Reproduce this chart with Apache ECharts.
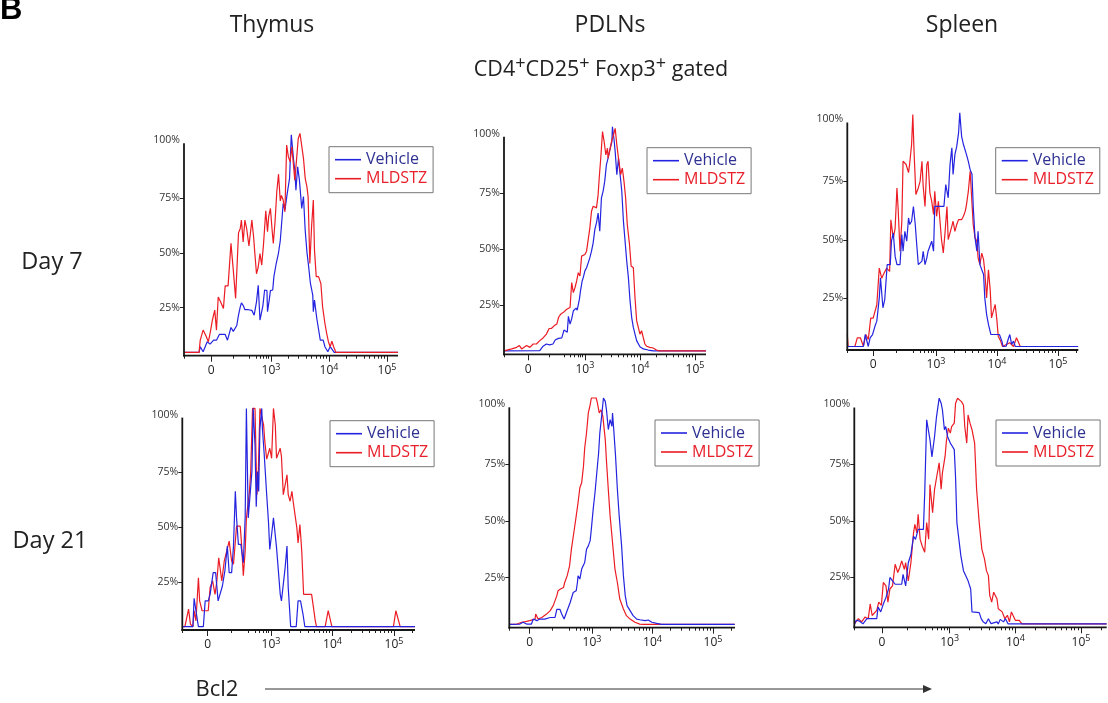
<!DOCTYPE html>
<html><head><meta charset="utf-8">
<script src="https://cdn.jsdelivr.net/npm/echarts@6/dist/echarts.min.js"></script>
<style>html,body{margin:0;padding:0;background:#fff}#c{width:1108px;height:703px}</style>
</head><body><div id="c"></div>
<script>
// ---- labels ----
const seriesNames = ['Vehicle', 'MLDSTZ'];
const tissueTitles = ['Thymus', 'PDLNs', 'Spleen'];
const dayLabels = ['Day 7', 'Day 21'];
const gateLabel = '{b|CD4}{s|+}{b|CD25}{s|+}{b| Foxp3}{s|+}{b| gated}';
const markerLabel = 'Bcl2';
// x is the position on the biexponential (logicle) display axis: 10^3 = 1, 10^4 = 2, 10^5 = 3
const xTickValues = [-0.03, 1, 2, 3];
const xTickLabels = ['0', '10{s|3}', '10{s|4}', '10{s|5}'];
const xMinorTicks = [0.35, 0.63, 0.74, 0.81, 0.87, 0.92, 0.96,
  1.301, 1.477, 1.602, 1.699, 1.778, 1.845, 1.903, 1.954,
  2.301, 2.477, 2.602, 2.699, 2.778, 2.845, 2.903, 2.954, 3.301];
const yTickValues = [25, 50, 75];
const yLabelValues = [25, 50, 75, 100];

// ---- data: [display position, % of max] ----
const thymusDay7Vehicle = [[-0.50,0],[-0.24,0],[-0.22,2.6],[-0.17,0.3],[-0.10,4.9],[-0.05,3.8],[0.01,5.6],[0.06,5.6],[0.11,8.2],[0.21,8.2],[0.25,5.6],[0.31,11.4],[0.35,9.6],[0.41,12.3],[0.44,17.0],[0.47,20.8],[0.49,22.6],[0.52,21.5],[0.55,19.5],[0.61,19.5],[0.67,19.2],[0.71,17.0],[0.75,23.1],[0.78,30.7],[0.81,14.8],[0.86,21.2],[0.89,28.5],[0.93,28.2],[0.94,18.6],[0.97,24.0],[0.99,28.2],[1.03,28.5],[1.05,34.6],[1.09,40.6],[1.13,45.5],[1.16,51.0],[1.18,57.7],[1.21,68.0],[1.24,65.0],[1.28,72.6],[1.32,79.5],[1.35,99.4],[1.39,87.8],[1.41,83.3],[1.43,74.1],[1.46,84.8],[1.49,78.7],[1.53,65.8],[1.56,71.2],[1.59,55.7],[1.62,45.8],[1.65,39.0],[1.68,31.5],[1.72,26.2],[1.73,18.6],[1.75,23.9],[1.79,15.5],[1.85,5.6],[1.90,5.6],[1.93,2.6],[1.98,0.3],[2.02,2.6],[2.05,2.6],[2.09,0],[3.19,0]];
const thymusDay7MLDSTZ = [[-0.50,0],[-0.24,0],[-0.22,5.6],[-0.17,10.2],[-0.12,7.5],[-0.08,4.9],[-0.05,8.7],[-0.01,14.8],[0.03,19.3],[0.06,10.2],[0.09,25.3],[0.13,23.1],[0.18,20.1],[0.21,30.4],[0.26,30.4],[0.31,49.8],[0.35,37.6],[0.39,24.7],[0.41,24.7],[0.44,54.6],[0.47,56.6],[0.49,60.4],[0.52,50.5],[0.55,60.4],[0.58,56.6],[0.62,48.6],[0.67,60.4],[0.70,52.8],[0.72,45.8],[0.75,35.9],[0.78,39.0],[0.81,45.1],[0.84,39.9],[0.87,49.0],[0.91,64.7],[0.94,55.1],[0.96,62.0],[0.99,65.8],[1.02,55.7],[1.04,49.8],[1.07,59.7],[1.10,73.4],[1.13,81.4],[1.16,69.2],[1.18,71.7],[1.21,69.6],[1.24,64.2],[1.27,94.7],[1.30,89.3],[1.33,87.1],[1.36,93.9],[1.39,84.8],[1.41,78.7],[1.44,87.8],[1.47,97.7],[1.50,100],[1.53,100],[1.56,88.6],[1.59,79.5],[1.62,75.6],[1.64,71.1],[1.67,40.6],[1.70,57.5],[1.73,69.6],[1.75,46.7],[1.78,34.6],[1.82,34.6],[1.86,31.5],[1.89,20.8],[1.93,13.2],[1.96,8.7],[1.99,4.9],[2.02,2.6],[2.05,5.1],[2.08,2.6],[2.12,0],[3.19,0]];
const pdlnDay7Vehicle = [[-0.47,0],[0.18,0.1],[0.24,2.1],[0.30,3.1],[0.36,2.7],[0.42,3.1],[0.46,4.9],[0.52,5.6],[0.58,5.8],[0.62,9.3],[0.68,8.3],[0.70,15.4],[0.73,12.0],[0.76,14.3],[0.79,17.9],[0.84,19.1],[0.86,18.2],[0.90,23.1],[0.92,26.8],[0.95,31.2],[0.97,32.7],[1.00,35.7],[1.03,37.1],[1.06,39.3],[1.09,41.6],[1.12,44.5],[1.15,48.2],[1.18,54.1],[1.21,57.1],[1.24,61.5],[1.27,53.4],[1.30,68.2],[1.33,71.2],[1.36,75.6],[1.39,83.0],[1.42,85.9],[1.46,90.4],[1.49,93.3],[1.50,100],[1.53,94.1],[1.55,88.9],[1.58,78.6],[1.61,85.9],[1.64,78.6],[1.67,71.2],[1.70,57.8],[1.73,48.9],[1.76,40.0],[1.79,32.7],[1.82,22.3],[1.85,14.9],[1.88,10.5],[1.91,7.5],[1.94,4.6],[2.00,1.9],[2.06,0.9],[2.15,0.4],[2.24,0],[3.20,0]];
const pdlnDay7MLDSTZ = [[-0.47,0],[-0.46,0.4],[-0.33,0.9],[-0.24,1.6],[-0.19,2.4],[-0.15,0.9],[-0.06,2.4],[0.00,1.6],[0.06,3.1],[0.12,3.1],[0.18,4.6],[0.24,5.8],[0.30,7.5],[0.35,10.0],[0.39,10.0],[0.44,11.2],[0.49,12.0],[0.52,14.9],[0.56,16.4],[0.61,17.2],[0.67,18.6],[0.73,19.4],[0.76,30.5],[0.79,26.0],[0.82,28.3],[0.85,31.2],[0.88,34.9],[0.91,33.4],[0.94,42.3],[0.97,41.6],[1.00,43.0],[1.03,44.5],[1.06,43.8],[1.09,54.9],[1.12,62.3],[1.15,64.5],[1.18,65.2],[1.21,63.8],[1.24,69.7],[1.26,77.1],[1.29,86.7],[1.32,97.8],[1.35,93.3],[1.38,87.4],[1.41,90.4],[1.42,85.9],[1.46,90.4],[1.49,94.1],[1.52,96.3],[1.55,99.3],[1.58,91.9],[1.61,86.0],[1.65,78.6],[1.68,81.5],[1.71,75.6],[1.74,68.2],[1.77,56.4],[1.81,47.5],[1.84,37.9],[1.88,37.1],[1.91,23.8],[1.94,13.5],[1.97,10.5],[2.00,7.5],[2.03,9.0],[2.06,6.0],[2.09,3.1],[2.12,2.1],[2.18,1.6],[2.24,1.3],[2.30,0.4],[2.35,0],[3.20,0]];
const spleenDay7Vehicle = [[-0.45,0],[-0.19,0],[-0.16,5.1],[-0.11,0],[-0.08,3.7],[-0.04,5.1],[0.00,8.7],[0.03,10.8],[0.07,20.7],[0.09,29.3],[0.13,16.5],[0.16,20.0],[0.20,34.9],[0.25,34.9],[0.27,44.9],[0.30,48.4],[0.33,38.4],[0.36,34.9],[0.41,34.9],[0.44,47.7],[0.46,40.6],[0.49,49.1],[0.52,44.9],[0.55,54.8],[0.57,52.0],[0.60,53.4],[0.63,59.7],[0.66,52.0],[0.68,44.9],[0.71,34.9],[0.74,34.9],[0.77,36.4],[0.79,40.6],[0.82,34.9],[0.85,37.8],[0.87,40.6],[0.90,39.9],[0.93,44.9],[0.96,40.6],[0.98,59.7],[1.04,59.7],[1.09,59.7],[1.13,59.7],[1.16,69.0],[1.20,63.4],[1.23,77.6],[1.26,84.7],[1.28,73.3],[1.31,81.8],[1.34,85.3],[1.37,91.1],[1.39,99.6],[1.42,89.6],[1.45,86.1],[1.50,81.8],[1.53,78.9],[1.56,75.4],[1.59,73.4],[1.61,60.0],[1.64,46.3],[1.67,40.6],[1.69,49.1],[1.72,34.9],[1.75,34.9],[1.78,30.7],[1.80,20.7],[1.83,13.6],[1.86,9.4],[1.90,5.1],[2.04,5.1],[2.08,2.3],[2.10,0],[2.15,0.1],[2.19,3.6],[2.21,5.1],[2.24,0.9],[2.27,2.3],[2.30,0],[3.33,0]];
const spleenDay7MLDSTZ = [[-0.454,5.1],[-0.44,0],[-0.33,0],[-0.29,3.7],[-0.24,3.7],[-0.19,0.1],[-0.15,5.1],[-0.11,3.0],[-0.07,12.1],[-0.03,12.1],[0.03,17.8],[0.07,33.4],[0.11,29.1],[0.15,31.3],[0.19,33.4],[0.24,32.0],[0.26,54.0],[0.30,46.2],[0.33,50.4],[0.36,67.6],[0.38,58.4],[0.41,40.6],[0.44,53.4],[0.46,79.0],[0.51,77.6],[0.55,74.1],[0.57,78.3],[0.60,86.1],[0.62,98.9],[0.64,83.2],[0.67,64.8],[0.71,67.6],[0.74,70.5],[0.77,79.0],[0.79,68.3],[0.82,59.7],[0.85,77.6],[0.87,79.0],[0.90,65.5],[0.93,61.9],[0.96,56.3],[0.98,66.2],[1.01,55.5],[1.04,61.9],[1.07,52.0],[1.09,45.6],[1.12,39.9],[1.15,49.1],[1.18,59.7],[1.20,45.6],[1.23,45.6],[1.26,51.3],[1.28,53.4],[1.31,49.1],[1.34,52.0],[1.37,54.1],[1.42,54.1],[1.45,55.5],[1.48,57.7],[1.50,60.5],[1.53,66.1],[1.56,74.7],[1.59,74.7],[1.61,52.0],[1.64,46.3],[1.67,45.0],[1.69,37.8],[1.72,34.9],[1.75,39.8],[1.78,37.0],[1.80,32.0],[1.83,20.7],[1.86,32.7],[1.89,23.6],[1.91,12.2],[1.94,15.1],[1.97,17.9],[2.00,10.8],[2.02,4.4],[2.06,2.3],[2.09,0],[2.21,1.6],[2.27,0],[2.32,3.7],[2.38,0.1],[2.40,0],[3.33,0]];
const thymusDay21Vehicle = [[-0.44,0],[-0.27,0],[-0.25,13.0],[-0.22,7.3],[-0.18,0],[-0.10,0],[-0.07,11.8],[-0.02,11.8],[0.01,14.8],[0.06,24.7],[0.10,24.7],[0.14,11.8],[0.17,11.8],[0.21,18.6],[0.25,25.5],[0.29,36.8],[0.32,24.7],[0.36,24.7],[0.39,36.8],[0.42,61.8],[0.44,49.7],[0.47,37.6],[0.51,37.6],[0.55,29.2],[0.58,49.7],[0.60,99.7],[0.63,49.7],[0.66,60.3],[0.69,70.9],[0.71,99.7],[0.74,83.0],[0.76,54.8],[0.78,70.9],[0.80,61.8],[0.82,90.6],[0.85,99.7],[0.86,90.6],[0.89,78.5],[0.93,60.3],[0.96,47.4],[0.98,35.3],[1.01,42.1],[1.04,49.7],[1.07,49.7],[1.09,36.1],[1.12,25.5],[1.15,14.8],[1.17,11.8],[1.20,11.8],[1.23,27.0],[1.26,36.8],[1.28,17.9],[1.32,0],[1.41,0],[1.44,11.8],[1.48,11.8],[1.52,5.8],[1.55,0],[3.34,0]];
const thymusDay21MLDSTZ = [[-0.44,0],[-0.40,0],[-0.34,8.0],[-0.31,1.2],[-0.27,0],[-0.25,7.3],[-0.22,2.7],[-0.18,22.4],[-0.16,11.8],[-0.12,7.3],[-0.02,7.3],[0.01,17.9],[0.05,20.9],[0.09,14.8],[0.12,20.9],[0.15,31.5],[0.20,20.9],[0.24,30.0],[0.28,34.5],[0.32,39.1],[0.36,30.0],[0.39,28.5],[0.44,45.9],[0.50,45.9],[0.52,38.3],[0.55,23.3],[0.58,34.5],[0.60,49.7],[0.65,61.8],[0.67,70.9],[0.70,99.7],[0.74,99.7],[0.77,60.3],[0.79,66.4],[0.82,99.7],[0.85,99.7],[0.88,92.1],[0.90,84.5],[0.93,76.5],[0.96,76.5],[0.98,81.5],[1.01,76.9],[1.04,99.7],[1.07,92.1],[1.09,76.9],[1.12,76.9],[1.15,81.5],[1.17,77.7],[1.20,60.3],[1.23,64.8],[1.26,69.4],[1.28,60.3],[1.31,57.3],[1.34,61.8],[1.36,57.3],[1.39,51.2],[1.42,45.2],[1.44,38.3],[1.47,46.7],[1.50,34.5],[1.53,14.8],[1.66,14.8],[1.69,8.8],[1.72,2.7],[1.74,0],[1.88,0],[1.93,7.3],[1.99,0],[2.99,0],[3.03,7.3],[3.10,0],[3.34,0]];
const pdlnDay21Vehicle = [[-0.36,0],[-0.19,0.1],[-0.14,0.9],[-0.08,0.1],[0.00,0.1],[0.03,2.3],[0.09,1.6],[0.14,2.3],[0.22,2.3],[0.31,3.0],[0.39,3.0],[0.42,6.6],[0.44,7.3],[0.47,6.6],[0.50,4.5],[0.54,2.3],[0.58,5.3],[0.64,9.6],[0.69,14.0],[0.74,14.8],[0.76,18.4],[0.77,21.3],[0.80,19.9],[0.83,24.3],[0.86,24.3],[0.88,27.2],[0.91,33.0],[0.94,34.5],[0.97,36.8],[0.99,41.9],[1.02,50.6],[1.05,57.9],[1.08,66.7],[1.11,75.4],[1.13,84.2],[1.16,91.5],[1.19,99.6],[1.22,98.1],[1.24,94.4],[1.27,85.7],[1.30,90.1],[1.33,87.1],[1.34,93.0],[1.36,85.7],[1.39,74.0],[1.42,59.4],[1.45,47.7],[1.49,34.5],[1.52,21.3],[1.55,12.6],[1.58,8.2],[1.63,6.0],[1.68,3.8],[1.74,2.3],[1.79,2.0],[1.88,1.6],[1.93,1.9],[1.99,0.9],[2.07,0.4],[2.15,0],[3.36,0]];
const pdlnDay21MLDSTZ = [[-0.36,0],[-0.25,0],[-0.16,0.9],[-0.08,1.3],[-0.03,1.6],[0.00,2.3],[0.06,2.3],[0.07,4.5],[0.11,2.3],[0.17,3.0],[0.20,3.8],[0.25,4.5],[0.31,6.0],[0.36,8.2],[0.42,12.6],[0.44,14.8],[0.48,15.5],[0.53,16.2],[0.55,18.4],[0.59,21.3],[0.63,25.7],[0.66,33.0],[0.70,40.3],[0.74,47.7],[0.77,53.5],[0.80,60.1],[0.83,62.3],[0.86,69.6],[0.88,77.6],[0.91,84.2],[0.94,93.0],[0.97,96.6],[0.99,99.6],[1.07,99.6],[1.09,97.4],[1.12,93.0],[1.15,94.4],[1.18,91.5],[1.22,81.3],[1.24,71.8],[1.27,59.4],[1.30,47.7],[1.34,36.0],[1.38,24.3],[1.42,18.4],[1.46,11.1],[1.52,6.7],[1.57,3.8],[1.63,2.3],[1.71,0.9],[1.79,0.1],[1.85,0],[3.36,0]];
const spleenDay21Vehicle = [[-0.45,0],[-0.42,1.6],[-0.37,1.2],[-0.32,0],[-0.26,2.3],[-0.11,2.3],[-0.09,7.5],[-0.05,5.3],[-0.01,8.8],[0.03,11.7],[0.07,15.4],[0.09,20.5],[0.13,19.0],[0.17,17.5],[0.27,17.5],[0.29,21.9],[0.33,16.8],[0.37,27.0],[0.41,30.7],[0.45,38.7],[0.48,37.3],[0.52,41.7],[0.60,41.7],[0.62,57.7],[0.65,90.1],[0.70,81.3],[0.73,73.7],[0.77,82.7],[0.80,91.5],[0.84,99.6],[0.87,97.4],[0.89,94.4],[0.92,85.7],[0.94,87.1],[0.97,82.5],[1.01,79.8],[1.04,78.4],[1.07,76.9],[1.09,64.5],[1.11,44.7],[1.14,37.4],[1.17,30.1],[1.21,23.5],[1.24,22.8],[1.28,19.0],[1.32,15.4],[1.34,5.3],[1.45,5.0],[1.48,2.3],[1.51,0.9],[1.55,0.1],[1.59,2.3],[1.63,0.1],[1.72,0.9],[1.74,0],[1.77,2.0],[1.82,0.9],[1.85,2.3],[1.89,0],[3.39,0]];
const spleenDay21MLDSTZ = [[-0.45,0],[-0.39,2.3],[-0.34,0.9],[-0.29,3.0],[-0.24,2.3],[-0.21,8.8],[-0.18,3.7],[-0.11,6.0],[-0.08,9.6],[-0.04,8.2],[-0.01,18.3],[0.03,16.8],[0.06,9.6],[0.09,15.4],[0.13,16.8],[0.17,26.3],[0.21,22.7],[0.24,24.9],[0.27,27.8],[0.31,24.1],[0.33,27.0],[0.37,19.0],[0.41,27.0],[0.45,40.2],[0.47,43.9],[0.50,40.2],[0.52,48.4],[0.55,37.4],[0.58,34.5],[0.62,31.6],[0.65,44.7],[0.68,37.4],[0.70,61.5],[0.74,49.1],[0.77,59.4],[0.80,64.5],[0.84,71.1],[0.87,59.4],[0.89,66.7],[0.93,73.9],[0.95,80.6],[0.98,86.4],[1.01,84.2],[1.03,87.1],[1.07,88.6],[1.09,97.4],[1.12,99.6],[1.14,99.6],[1.18,98.1],[1.21,96.6],[1.23,87.1],[1.26,79.8],[1.28,92.2],[1.31,88.6],[1.34,85.7],[1.38,79.8],[1.41,59.4],[1.45,44.7],[1.49,33.0],[1.53,28.7],[1.56,23.5],[1.59,21.3],[1.61,12.6],[1.64,9.6],[1.67,14.0],[1.72,11.1],[1.74,6.7],[1.80,5.3],[1.84,2.3],[1.88,3.8],[1.91,0.9],[1.94,5.3],[1.97,6.0],[2.00,1.6],[2.02,0.9],[2.06,1.6],[2.10,0],[3.39,0]];

// ---- layout ----
const BLUE = '#2424e0', RED = '#ec1c24';
const FONT = '"Open Sans", "Noto Sans", sans-serif';
const Y_MIN = -1.5, Y_MAX = 95.5;
const panels = [
  { veh: thymusDay7Vehicle,  mld: thymusDay7MLDSTZ,  left: 184,   top: 143.3, width: 214,   height: 212.4, xMin: -0.5,   xMax: 3.19,  leg: [329, 146.7], redTop: true },
  { veh: pdlnDay7Vehicle,    mld: pdlnDay7MLDSTZ,    left: 504,   top: 136.8, width: 202,   height: 217.5, xMin: -0.47,  xMax: 3.2,   leg: [647, 147.7], redTop: true },
  { veh: spleenDay7Vehicle,  mld: spleenDay7MLDSTZ,  left: 847.3, top: 122.5, width: 231,   height: 227.5, xMin: -0.454, xMax: 3.333, leg: [995.7, 147.7], redTop: false },
  { veh: thymusDay21Vehicle, mld: thymusDay21MLDSTZ, left: 182.3, top: 417.6, width: 232.7, height: 212.4, xMin: -0.442, xMax: 3.341, leg: [330, 420.7], redTop: false },
  { veh: pdlnDay21Vehicle,   mld: pdlnDay21MLDSTZ,   left: 509.3, top: 407.3, width: 225.7, height: 220.4, xMin: -0.366, xMax: 3.364, leg: [655, 420], redTop: false },
  { veh: spleenDay21Vehicle, mld: spleenDay21MLDSTZ, left: 854.3, top: 407.5, width: 252.4, height: 219.8, xMin: -0.452, xMax: 3.391, leg: [996, 420], redTop: false }
];

// Each grid: xAxis 2i = major ticks + labels, 2i+1 = minor ticks; yAxis 2i = data scale, 2i+1 = tick/label scale.
const noLine = { show: false, onZero: false };
const grid = [], xAxis = [], yAxis = [], series = [], legend = [];
panels.forEach((p, i) => {
  grid.push({ left: p.left, top: p.top, width: p.width, height: p.height, containLabel: false });
  xAxis.push({
    gridIndex: i, type: 'value', position: 'bottom', min: p.xMin, max: p.xMax, axisLine: noLine,
    splitLine: { show: false },
    axisTick: { show: true, customValues: xTickValues, length: 6, lineStyle: { color: '#222', width: 1 } },
    axisLabel: {
      show: true, customValues: xTickValues, margin: 7, color: '#222',
      fontFamily: FONT, fontSize: 12, lineHeight: 16,
      formatter: v => xTickLabels[xTickValues.indexOf(v)],
      rich: { s: { fontSize: 9, fontFamily: FONT, color: '#222', verticalAlign: 'top', lineHeight: 9 } }
    }
  });
  xAxis.push({
    gridIndex: i, type: 'value', position: 'bottom', min: p.xMin, max: p.xMax,
    axisLine: noLine, splitLine: { show: false }, axisLabel: { show: false },
    axisTick: { show: true, customValues: [p.xMin].concat(xMinorTicks.filter(t => t <= p.xMax)), length: 3, lineStyle: { color: '#222', width: 1 } }
  });
  yAxis.push({
    gridIndex: i, type: 'value', position: 'left', min: Y_MIN, max: Y_MAX, axisLine: noLine,
    axisTick: { show: false }, axisLabel: { show: false }, splitLine: { show: false }
  });
  yAxis.push({
    gridIndex: i, type: 'value', min: 3, max: 100, position: 'left',
    axisLine: noLine, splitLine: { show: false },
    axisTick: { show: true, customValues: yTickValues, length: 4, lineStyle: { color: '#222' } },
    axisLabel: {
      show: true, customValues: yLabelValues, margin: 4, color: '#333', fontFamily: FONT, fontSize: 10.5,
      formatter: v => v === 100 ? '{t|100%}' : '{n|' + v + '%}',
      rich: { t: { fontSize: 10.5, fontFamily: FONT, color: '#333', padding: [0, 0, 6, 0] }, n: { fontSize: 10.5, fontFamily: FONT, color: '#333' } }
    }
  });
  const mk = (name, data, color, z) => ({
    type: 'line', name, data, xAxisIndex: 2 * i, yAxisIndex: 2 * i, symbol: 'none', clip: false,
    lineStyle: { width: 1.2, color }, itemStyle: { color }, z, animation: false, silent: true
  });
  series.push(mk(seriesNames[0], p.veh, BLUE, p.redTop ? 2 : 3));
  series.push(mk(seriesNames[1], p.mld, RED, p.redTop ? 3 : 2));
  legend.push({
    left: p.leg[0], top: p.leg[1], orient: 'vertical', selectedMode: false,
    data: [{ name: seriesNames[0], textStyle: { color: '#2e3192' } }, { name: seriesNames[1], textStyle: { color: '#e8202a' } }],
    borderColor: '#777', borderWidth: 1, padding: [5, 6, 6, 6], itemGap: 3,
    itemWidth: 26, itemHeight: 1.6, icon: 'rect', itemTextGap: 8,
    textStyle: { fontSize: 16, fontFamily: FONT }
  });
});

const txt = (text, x, y, size, extra) => Object.assign({
  type: 'text', silent: true,
  style: Object.assign({ text, x, y, fontSize: size, fontFamily: FONT, fill: '#222', align: 'center', verticalAlign: 'middle' }, extra || {})
});
const graphic = [
  txt('B', 0, 10, 31, { align: 'left', fontWeight: 'bold', fontFamily: '"Liberation Sans", Arial, sans-serif', fill: '#000' }),
  txt(tissueTitles[0], 272, 25, 23),
  txt(tissueTitles[1], 610, 25, 23),
  txt(tissueTitles[2], 962, 25, 23),
  txt(gateLabel, 601, 70, 21.5, { rich: { b: { fontSize: 21.5, fontFamily: FONT, fill: '#222', lineHeight: 30 }, s: { fontSize: 18, fontFamily: FONT, fill: '#222', verticalAlign: 'top', lineHeight: 17 } } }),
  txt(dayLabels[0], 52, 262, 23.5),
  txt(dayLabels[1], 50, 541, 23.5),
  txt(markerLabel, 217, 690, 22),
  { type: 'line', silent: true, shape: { x1: 265, y1: 689, x2: 925, y2: 689 }, style: { stroke: '#333', lineWidth: 1.2 } },
  { type: 'polygon', silent: true, shape: { points: [[932, 689], [923, 685], [923, 693]] }, style: { fill: '#333' } }
];

const chart = echarts.init(document.getElementById('c'), null, { renderer: 'canvas' });
chart.setOption({ animation: false, backgroundColor: '#fff', grid, xAxis, yAxis, series, legend, graphic });

// axis lines (left + bottom), positioned through each panel's own scales
const frames = [];
panels.forEach((p, i) => {
  const finder = { xAxisIndex: 2 * i, yAxisIndex: 2 * i };
  const a = chart.convertToPixel(finder, [p.xMin, Y_MAX]);
  const b = chart.convertToPixel(finder, [p.xMin, Y_MIN]);
  const c = chart.convertToPixel(finder, [p.xMax, Y_MIN]);
  const st = { stroke: '#161616', lineWidth: 1.8 };
  frames.push({ type: 'line', silent: true, z: 50, shape: { x1: a[0], y1: a[1], x2: b[0], y2: b[1] + 0.9 }, style: st });
  frames.push({ type: 'line', silent: true, z: 50, shape: { x1: b[0] - 0.9, y1: b[1], x2: c[0], y2: c[1] }, style: st });
});
chart.setOption({ graphic: graphic.concat(frames) });
</script></body></html>
